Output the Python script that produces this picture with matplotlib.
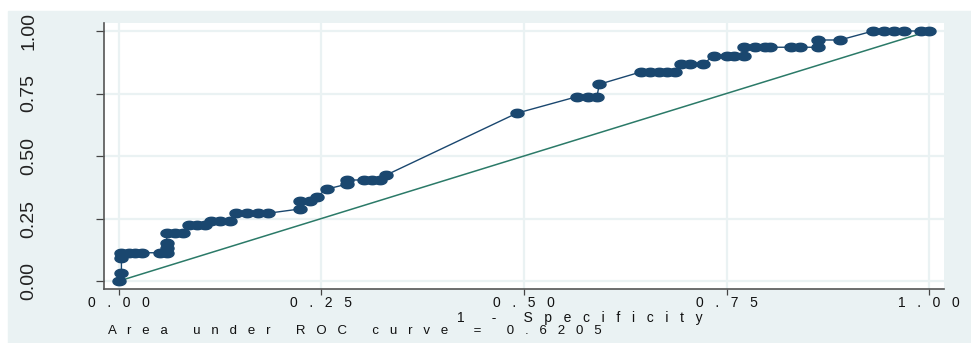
import numpy as np
import matplotlib
matplotlib.use("Agg")
import matplotlib.pyplot as plt
from matplotlib.path import Path
from matplotlib.patches import Rectangle

# ROC points (1 - specificity, sensitivity)
fpr = [0.000, 0.003, 0.003, 0.003, 0.012, 0.020, 0.028, 0.051, 0.059,
       0.059, 0.059, 0.059, 0.069, 0.079, 0.086, 0.096, 0.106, 0.113,
       0.125, 0.137, 0.145, 0.158, 0.172, 0.184, 0.223, 0.223, 0.236,
       0.244, 0.257, 0.281, 0.281, 0.302, 0.312, 0.322, 0.330, 0.491,
       0.565, 0.579, 0.590, 0.593, 0.645, 0.656, 0.667, 0.677, 0.687,
       0.694, 0.705, 0.721, 0.734, 0.750, 0.759, 0.771, 0.771, 0.785,
       0.797, 0.804, 0.830, 0.841, 0.863, 0.863, 0.890, 0.931, 0.944,
       0.957, 0.969, 0.990, 1.000]
tpr = [0.000, 0.031, 0.091, 0.113, 0.113, 0.113, 0.113, 0.113, 0.113,
       0.131, 0.151, 0.191, 0.191, 0.191, 0.224, 0.224, 0.224, 0.241,
       0.241, 0.241, 0.271, 0.271, 0.271, 0.271, 0.288, 0.320, 0.320,
       0.337, 0.368, 0.387, 0.404, 0.404, 0.404, 0.404, 0.424, 0.671,
       0.737, 0.737, 0.737, 0.787, 0.837, 0.837, 0.837, 0.837, 0.837,
       0.867, 0.867, 0.867, 0.901, 0.901, 0.901, 0.901, 0.935, 0.935,
       0.935, 0.935, 0.935, 0.935, 0.935, 0.964, 0.964, 1.000, 1.000,
       1.000, 1.000, 1.000, 1.000]
ref_line = [0.0, 1.0]
ticks = [0.0, 0.25, 0.5, 0.75, 1.0]
tick_labels = ["0.00", "0.25", "0.50", "0.75", "1.00"]
xlabel = "1 - Specificity"
auc_note = "Area under ROC curve = 0.6205"

BG = "#eaf2f3"
NAVY = "#1a476f"
TEAL = "#2b7a68"


def spread(s, gap="   "):
    return gap.join(s)


t = np.linspace(0, 2 * np.pi, 48)
oval = Path(np.column_stack([1.55 * np.cos(t), np.sin(t)]), closed=True)

fig = plt.figure(figsize=(9.71, 3.43), dpi=100, facecolor="white")
fig.patches.append(Rectangle((8 / 971, 0), 1, (343 - 11) / 343,
                             transform=fig.transFigure, color=BG, zorder=-10))

ax = fig.add_axes([104 / 971, 1 - 289 / 343, (944 - 104) / 971, (289 - 23) / 343])
ax.set_facecolor("white")

ax.plot(fpr, tpr, color=NAVY, lw=1.0, marker=oval, ms=9.4,
        mfc=NAVY, mec=NAVY, zorder=3)
ax.plot(ref_line, ref_line, color=TEAL, lw=1.1, zorder=2)

ax.set_xlim(-0.0185, 1.0185)
ax.set_ylim(-0.032, 1.032)
ax.set_xticks(ticks)
ax.set_yticks(ticks)
ax.set_xticklabels([spread(s) for s in tick_labels],
                   fontfamily="Liberation Sans", fontsize=10)
ax.set_yticklabels(tick_labels, rotation=90, va="center",
                   fontfamily="Liberation Sans", fontsize=14)
ax.tick_params(axis="y", length=6, width=0.9, color="#444444", pad=42,
               labelcolor="#222222")
ax.tick_params(axis="x", length=4, width=0.9, color="#444444", pad=1,
               labelcolor="#111111")
ax.grid(True, color=BG, lw=1.6, zorder=0)
ax.set_axisbelow(True)

for side in ("top", "right"):
    ax.spines[side].set_visible(False)
for side in ("left", "bottom"):
    ax.spines[side].set_color("#555555")
    ax.spines[side].set_linewidth(1.2)

fig.text(580 / 971, 1 - 318 / 343, spread(xlabel), ha="center", va="center",
         fontfamily="Liberation Sans", fontsize=10, color="#111111")
fig.text(108 / 971, 1 - 331 / 343, spread(auc_note), ha="left",
         va="center", fontfamily="Liberation Sans", fontsize=9.5,
         color="#111111")

fig.savefig("out.png", dpi=100, facecolor="white")
